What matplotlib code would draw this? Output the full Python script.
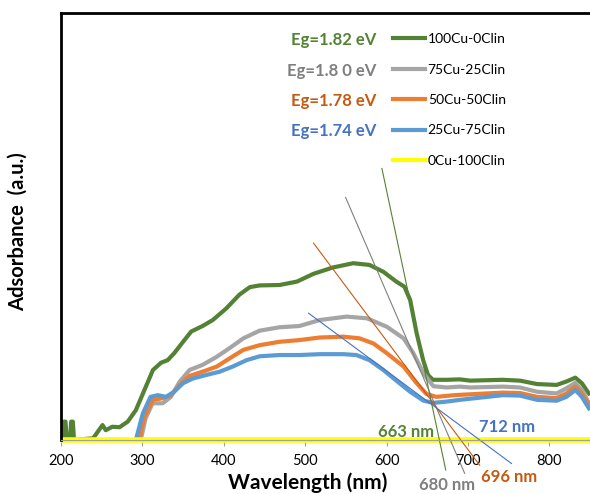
import matplotlib
matplotlib.use("Agg")
from matplotlib import pyplot as plt
from matplotlib.lines import Line2D

plt.rcParams['font.family'] = ['Lato', 'DejaVu Sans']

# absorbance spectra (arbitrary units)
wl_100cu = [200, 202, 203.5, 205.5, 207, 211, 212.5, 214.5, 216, 239.5, 251, 255, 263, 272, 282,
            292, 302.5, 313, 323, 331, 339, 350, 360, 374, 386.5, 403, 419, 432, 444, 468.5,
            490, 510, 534, 559, 579, 596, 612, 622, 629, 637, 645, 651, 657, 674, 690, 703,
            743, 764, 785, 809, 821, 832, 840, 850]
abs_100cu = [0, 0, 0.043, 0.043, 0, 0, 0.043, 0.043, 0, 0.004, 0.035, 0.023, 0.031, 0.030, 0.043,
             0.070, 0.117, 0.164, 0.181, 0.187, 0.203, 0.230, 0.254, 0.267, 0.281, 0.308, 0.340, 0.358, 0.362, 0.363,
             0.371, 0.389, 0.404, 0.414, 0.410, 0.394, 0.371, 0.359, 0.328, 0.250, 0.187, 0.152, 0.141, 0.141, 0.142, 0.139,
             0.141, 0.139, 0.131, 0.129, 0.137, 0.146, 0.133, 0.105]

wl_75cu = [298, 304, 312.5, 325, 335, 346, 358, 374, 391.5, 407, 424, 444, 468.5, 493, 518, 551,
           576, 600.5, 621, 633, 645.5, 657.5, 674, 690, 703, 743, 764, 785, 809, 821, 832, 840, 850]
abs_75cu = [0, 0.051, 0.086, 0.086, 0.101, 0.137, 0.164, 0.176, 0.195, 0.215, 0.238, 0.256, 0.264, 0.267, 0.281, 0.289,
            0.285, 0.265, 0.238, 0.203, 0.156, 0.126, 0.123, 0.125, 0.123, 0.125, 0.123, 0.113, 0.109, 0.121, 0.134, 0.117, 0.082]

wl_50cu = [296, 302.5, 313, 325, 335, 346, 358, 374, 391.5, 407, 424, 444, 468.5, 493, 518, 547,
           567, 584, 600.5, 621, 637, 649, 661, 683, 743, 764, 785, 809, 821, 832, 840, 850]
abs_50cu = [0, 0.055, 0.094, 0.098, 0.105, 0.129, 0.150, 0.160, 0.172, 0.191, 0.211, 0.222, 0.230, 0.234, 0.240, 0.242,
            0.238, 0.226, 0.203, 0.172, 0.133, 0.108, 0.101, 0.105, 0.111, 0.110, 0.101, 0.098, 0.109, 0.125, 0.109, 0.078]

wl_25cu = [292, 300.5, 310, 319, 329, 339, 350, 362, 378, 395, 411, 428, 444, 468.5, 493, 518, 547,
           563, 579, 596, 612, 629, 645.5, 657.5, 674, 690, 743, 764, 785, 809, 821, 832, 840, 850]
abs_25cu = [0, 0.062, 0.101, 0.105, 0.101, 0.113, 0.133, 0.144, 0.152, 0.160, 0.172, 0.187, 0.196, 0.199, 0.199, 0.201, 0.201,
            0.199, 0.187, 0.164, 0.139, 0.113, 0.092, 0.087, 0.090, 0.094, 0.105, 0.104, 0.094, 0.092, 0.101, 0.117, 0.101, 0.070]

wl_0cu = [200, 850]
abs_0cu = [0, 0]

labels = ["100Cu-0Clin", "75Cu-25Clin", "50Cu-50Clin", "25Cu-75Clin", "0Cu-100Clin"]
colors = ["#548235", "#A5A5A5", "#ED7D31", "#5B9BD5", "#FFFF00"]

# tangent lines used for the band edge (start / end points)
tan_x = [[594.3, 672.7], [549.7, 696], [510.3, 714.4], [504.2, 753.5]]
tan_y = [[0.636, -0.070], [0.568, -0.078], [0.461, -0.059], [0.297, -0.055]]
tan_colors = ["#548235", "#7F7F7F", "#C55A11", "#4472C4"]

edge_labels = ["663 nm", "680 nm", "696 nm", "712 nm"]
edge_x = [624, 674.5, 751, 748]
edge_y = [0.019, -0.105, -0.086, 0.031]

eg_labels = ["Eg=1.82 eV", "Eg=1.8 0 eV", "Eg=1.78 eV", "Eg=1.74 eV"]
eg_y = [0.937, 0.865, 0.793, 0.723]

fig = plt.figure(figsize=(5.9, 4.94), dpi=100)
ax = fig.add_axes([61/590, 54/494, 529/590, 427/494])

series = [(wl_100cu, abs_100cu), (wl_75cu, abs_75cu), (wl_50cu, abs_50cu),
          (wl_25cu, abs_25cu)]
for (x, y), c, lab in zip(series, colors, labels):
    ax.plot(x, y, color=c, lw=3, label=lab, solid_capstyle='butt')
# yellow baseline sits on the axis, draw it unclipped so it keeps its full width
ax.plot(wl_0cu, abs_0cu, color=colors[4], lw=4, clip_on=False, solid_capstyle='butt')

for x, y, c in zip(tan_x, tan_y, tan_colors):
    ax.plot(x, y, color=c, lw=0.8, clip_on=False)

for t, x, y, c in zip(edge_labels, edge_x, edge_y, tan_colors):
    ax.text(x, y, t, color=c, fontsize=12, fontweight='bold', ha='center', va='center', clip_on=False)

for t, y, c in zip(eg_labels, eg_y, tan_colors):
    ax.text(587, y, t, color=c, fontsize=12, fontweight='bold', ha='right', va='center')

handles = [Line2D([], [], color=c, lw=3) for c in colors]
ax.legend(handles, labels, loc='upper left', bbox_to_anchor=(0.6276, 0.953), frameon=False,
          fontsize=10, handlelength=2.3, handletextpad=0.2, labelspacing=1.33,
          borderpad=0, borderaxespad=0)

ax.set_xlim(200, 850)
ax.set_ylim(0, 1)
ax.set_xticks([200, 300, 400, 500, 600, 700, 800])
ax.set_yticks([])
ax.tick_params(axis='x', labelsize=10.5, color='#A0A0A0', length=4, pad=6)

ax.spines['right'].set_visible(False)
ax.spines['left'].set_linewidth(2)
ax.spines['top'].set_linewidth(2)
ax.spines['bottom'].set_color('#A0A0A0')

ax.set_xlabel("Wavelength (nm)", fontsize=15, fontweight='bold')
ax.xaxis.set_label_coords((308 - 61) / 529, -0.077)
ax.set_ylabel("Adsorbance  (a.u.)", fontsize=14.5, fontweight='bold')
ax.yaxis.set_label_coords(-0.0624, 0.489)

fig.savefig("out.png", dpi=100)
